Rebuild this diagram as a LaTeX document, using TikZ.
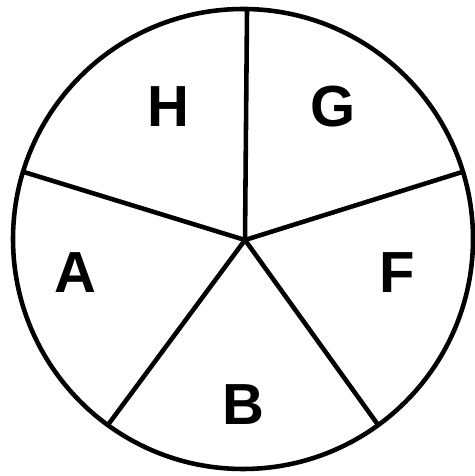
\documentclass[tikz,border=0pt]{standalone}
\usepackage{fontspec}
\setmainfont{Liberation Sans}
\usetikzlibrary{calc}

\begin{document}
\begin{tikzpicture}[x=0.02cm,y=0.02cm,
  rim/.style={line width=2.6pt,black},
  spoke/.style={line width=2.6pt,black,line cap=round},
  sector/.style={font=\fontsize{33}{33}\selectfont\bfseries,inner sep=0pt}]
\useasboundingbox (0,0) rectangle (475,476);
% wheel
\coordinate (mid) at (243,237);
\coordinate (hub) at (245,236);
\draw[rim] (mid) circle (230);
\coordinate (top) at ($(mid)+(89:230)$);
\coordinate (ur) at ($(mid)+(17:230)$);
\coordinate (lr) at ($(mid)+(-54:230)$);
\coordinate (ll) at ($(mid)+(-126:230)$);
\coordinate (ul) at ($(mid)+(163:230)$);
\foreach \p in {top,ur,lr,ll,ul}
  \draw[spoke] (hub) -- (\p);
% labels
\node[sector] (h) at (168,369) {H};
\node[sector] (g) at (333,369) {G};
\node[sector] (a) at (75,203) {A};
\node[sector] (f) at (397,203) {F};
\node[sector] (b) at (243,71) {B};
\end{tikzpicture}
\end{document}
